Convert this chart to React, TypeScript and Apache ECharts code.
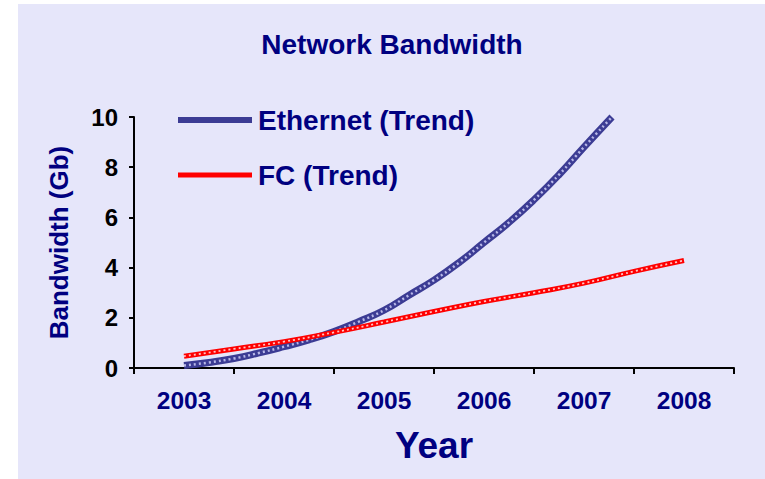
import React, { useEffect, useRef } from "react";
import * as echarts from "echarts";

const years = ["2003", "2004", "2005", "2006", "2007", "2008"];
const yTicks = [0, 2, 4, 6, 8, 10];

const ethernetX = [2003.0, 2003.25, 2003.5, 2003.75, 2004.0, 2004.25, 2004.5, 2004.75, 2005.0, 2005.25, 2005.5, 2005.75, 2006.0, 2006.25, 2006.5, 2006.75, 2007.0, 2007.28];
const ethernetY = [0.1, 0.22, 0.38, 0.6, 0.85, 1.12, 1.45, 1.85, 2.3, 2.9, 3.5, 4.2, 5.0, 5.8, 6.7, 7.7, 8.8, 10.0];

const fcX = [2003.0, 2003.5, 2004.0, 2004.5, 2005.0, 2005.5, 2006.0, 2006.5, 2007.0, 2007.5, 2008.0];
const fcY = [0.47, 0.76, 1.05, 1.42, 1.83, 2.25, 2.65, 3.0, 3.38, 3.85, 4.28];

const NAVY = "#000080";
const FONT = "'Liberation Sans', Arial, sans-serif";

export default function App() {
  const ref = useRef<HTMLDivElement>(null);
  useEffect(() => {
    if (!ref.current) return;
    const chart = echarts.init(ref.current, undefined, { renderer: "svg" });
    const eth = ethernetX.map((x, i) => [x, ethernetY[i]]);
    const fc = fcX.map((x, i) => [x, fcY[i]]);
    const legendText = { color: NAVY, fontSize: 28, fontWeight: "bold", fontFamily: FONT, lineHeight: 28, padding: [0, 0, 0, 1] };
    chart.setOption({
      animation: false,
      backgroundColor: "#ffffff",
      textStyle: { fontFamily: FONT },
      graphic: [
        {
          type: "rect",
          z: -100,
          silent: true,
          shape: { x: 18, y: 4, width: 747, height: 475 },
          style: { fill: "#E6E6FA" },
        },
      ],
      title: {
        text: "Network Bandwidth",
        left: 392,
        textAlign: "center",
        top: 30,
        padding: 0,
        textStyle: { color: NAVY, fontSize: 28, fontWeight: "bold", fontFamily: FONT, lineHeight: 28 },
      },
      legend: [
        {
          data: ["Ethernet (Trend)"],
          left: 178,
          top: 106,
          padding: 0,
          icon: "rect",
          itemWidth: 74,
          itemHeight: 6,
          itemGap: 6,
          textStyle: legendText,
        },
        {
          data: ["FC (Trend)"],
          left: 178,
          top: 161,
          padding: 0,
          icon: "rect",
          itemWidth: 74,
          itemHeight: 5,
          itemGap: 6,
          textStyle: legendText,
        },
      ],
      grid: { left: 134, right: 31, top: 117, bottom: 111, containLabel: false },
      xAxis: [
        {
          type: "category",
          data: years,
          boundaryGap: true,
          name: "Year",
          nameLocation: "middle",
          nameGap: 59,
          nameTextStyle: { color: NAVY, fontSize: 37, fontWeight: "bold", fontFamily: FONT },
          axisLine: { show: true, lineStyle: { color: "#000", width: 2 } },
          axisTick: { show: true, inside: false, length: 6, lineStyle: { color: "#000", width: 2 } },
          axisLabel: { color: NAVY, fontSize: 24.5, fontWeight: "bold", fontFamily: FONT, margin: 20 },
          splitLine: { show: false },
        },
        {
          type: "value",
          min: 2002.5,
          max: 2008.5,
          show: false,
          splitLine: { show: false },
        },
      ],
      yAxis: {
        type: "value",
        min: 0,
        max: 10,
        interval: 2,
        name: "Bandwidth (Gb)",
        nameLocation: "middle",
        nameRotate: 90,
        nameGap: 62,
        nameTextStyle: { color: NAVY, fontSize: 26, fontWeight: "bold", fontFamily: FONT },
        axisLine: { show: true, lineStyle: { color: "#000", width: 2 } },
        axisTick: { show: true, inside: false, length: 5, lineStyle: { color: "#000", width: 2 } },
        axisLabel: {
          color: "#000",
          fontSize: 24,
          fontWeight: "bold",
          fontFamily: FONT,
          margin: 16,
          formatter: (v: number) => (yTicks.includes(v) ? String(v) : ""),
        },
        splitLine: { show: false },
      },
      series: [
        {
          name: "Ethernet (Trend)",
          type: "line",
          xAxisIndex: 1,
          data: eth,
          smooth: true,
          symbol: "none",
          color: "#3c3c94",
          lineStyle: { color: "#3c3c94", width: 7 },
          z: 3,
        },
        {
          name: "eth-texture",
          type: "line",
          xAxisIndex: 1,
          data: eth,
          smooth: true,
          symbol: "none",
          lineStyle: { color: "#b8b8e8", width: 2.5, type: [2, 3] },
          z: 4,
          silent: true,
        },
        {
          name: "FC (Trend)",
          type: "line",
          xAxisIndex: 1,
          data: fc,
          smooth: true,
          symbol: "none",
          color: "#ff0000",
          lineStyle: { color: "#ff0000", width: 5 },
          z: 5,
        },
        {
          name: "fc-texture",
          type: "line",
          xAxisIndex: 1,
          data: fc,
          smooth: true,
          symbol: "none",
          lineStyle: { color: "#ffc4c4", width: 1.8, type: [2, 3] },
          z: 6,
          silent: true,
        },
      ],
    });
    return () => chart.dispose();
  }, []);
  return (
    <div
      ref={ref}
      style={{ position: "fixed", left: 0, top: 0, width: 765, height: 479 }}
    />
  );
}
